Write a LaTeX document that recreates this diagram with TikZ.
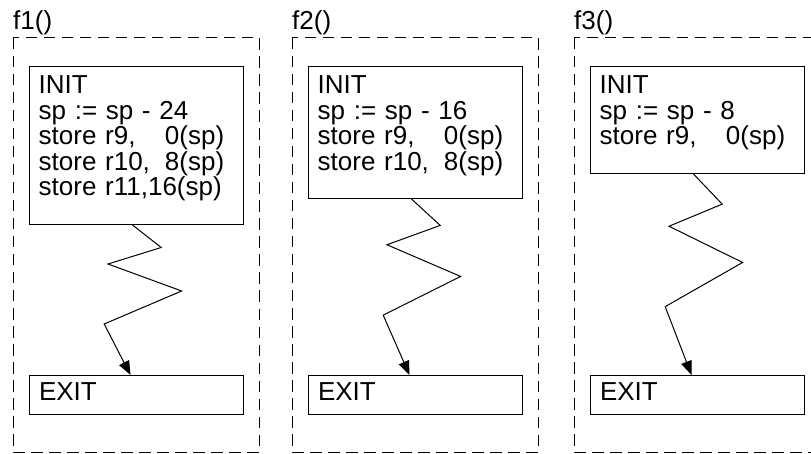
\documentclass[tikz,border=0pt]{standalone}
\usepackage{fontspec}
\setmainfont{Liberation Sans}
\usetikzlibrary{arrows.meta,calc}
\newcommand\codefont{\fontsize{26pt}{25.5pt}\selectfont}

\begin{document}
\begin{tikzpicture}[x=1pt,y=1pt,
  frame/.style={line width=1pt,dash pattern=on 11.5pt off 6.5pt},
  box/.style={draw,line width=1pt,anchor=north west,minimum width=214pt},
  code/.style={anchor=north west,inner sep=0pt,text width=185.5pt,align=left,font=\codefont},
  exitbox/.style={box,minimum height=39pt,text width=195pt,inner xsep=9.5pt,align=left,text depth=6pt,font=\codefont},
  title/.style={anchor=base west,inner sep=0pt,font=\codefont},
  flow/.style={-{Triangle[length=14pt,width=11pt]},line width=1pt}]
  \useasboundingbox (0,0) rectangle (811,-454);
  \clip (0,0) rectangle (811,-454);
  \fill[white] (0,0) rectangle (811,-454);
  % f1
  \node[title] (t1) at (13,-30) {f1()};
  \draw[frame] (13,-38) rectangle (259,-452);
  \node[box,minimum height=158pt] (init1) at (29,-66) {};
  \node[code] (c1) at ([shift={(9.5,-9.5)}]init1.north west)
    {INIT\\sp := sp - 24\\store r9,\hfill 0(sp)\\store r10,\hfill 8(sp)\\store r11,16(sp)};
  \node[exitbox] (exit1) at (29,-375) {EXIT};
  % f2
  \node[title] (t2) at (292,-30) {f2()};
  \draw[frame] (292,-38) rectangle (538,-452);
  \node[box,minimum height=132pt] (init2) at (308,-66) {};
  \node[code] (c2) at ([shift={(9.5,-9.5)}]init2.north west)
    {INIT\\sp := sp - 16\\store r9,\hfill 0(sp)\\store r10,\hfill 8(sp)};
  \node[exitbox] (exit2) at (308,-375) {EXIT};
  % f3
  \node[title] (t3) at (574,-30) {f3()};
  \draw[frame] (574,-38) rectangle (820,-452);
  \node[box,minimum height=107pt] (init3) at (590,-66) {};
  \node[code] (c3) at ([shift={(9.5,-9.5)}]init3.north west)
    {INIT\\sp := sp - 8\\store r9,\hfill 0(sp)};
  \node[exitbox] (exit3) at (590,-375) {EXIT};
  % zigzag from INIT down to EXIT
  \foreach \i in {1,2,3} {
    \coordinate (top\i) at ([xshift=-4pt]init\i.south);
    \coordinate (bot\i) at ([xshift=-6pt]exit\i.north);
    \draw[flow] (top\i) -- ($(top\i)!.15!(bot\i)+(29,0)$)
      -- ($(top\i)!.26!(bot\i)+(-24,0)$) -- ($(top\i)!.44!(bot\i)+(50,0)$)
      -- ($(top\i)!.66!(bot\i)+(-27,0)$) -- (bot\i);
  }
\end{tikzpicture}
\end{document}
